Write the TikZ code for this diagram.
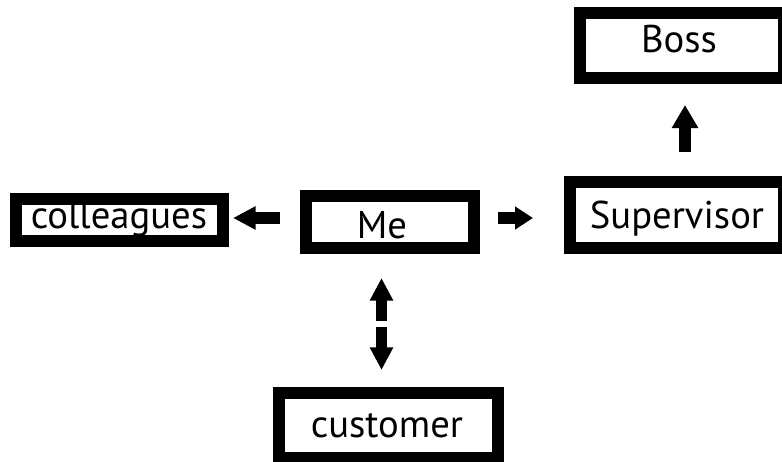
\documentclass[tikz,border=0pt]{standalone}
\usepackage{fontspec}
\setmainfont{PT Sans}
\usetikzlibrary{arrows.meta}
\tikzset{
  box/.style={draw=black, line width=9pt, fill=white, inner sep=0pt, outer sep=0pt},
  lbl/.style={anchor=base, inner sep=0pt, font=\fontsize{29}{34}\selectfont},
  arr/.style={line width=8.5pt, -{Triangle[width=16.5pt, length=17pt]}},
}
\begin{document}
\begin{tikzpicture}[x=0.75pt, y=-0.75pt]
\useasboundingbox (0,0) rectangle (782,461);
\fill[white] (0,0) rectangle (782,461);
% boxes
\node[box, minimum width=168*0.75pt, minimum height=51.5*0.75pt] (me) at (390,221.75) {};
\node[box, minimum width=207*0.75pt, minimum height=41.5*0.75pt] (coll) at (119,219.75) {};
\node[box, minimum width=214.5*0.75pt, minimum height=66.5*0.75pt] (sup) at (676.75,214.75) {};
\node[box, minimum width=204*0.75pt, minimum height=65*0.75pt] (boss) at (682,45.5) {};
\node[box, minimum width=218.5*0.75pt, minimum height=64.5*0.75pt] (cust) at (388.25,425.25) {};
% labels
\node[lbl] (tme) at (382,238) {Me};
\node[lbl] (tcoll) at (119,228) {colleagues};
\node[lbl] (tsup) at (677,228) {Supervisor};
\node[lbl] (tboss) at (679,52.7) {Boss};
\node[lbl] (tcust) at (387,437) {customer};
% arrow end points
\coordinate (l1) at (280,218); \coordinate (l2) at (233,218);
\coordinate (r1) at (498,218); \coordinate (r2) at (533,218);
\coordinate (u1) at (381.5,321); \coordinate (u2) at (381.5,278);
\coordinate (d1) at (381.5,327); \coordinate (d2) at (381.5,370);
\coordinate (b1) at (685,152); \coordinate (b2) at (685,105);
\draw[arr] (l1) -- (l2);
\draw[line width=8.5pt, -{Triangle[width=16.5pt, length=13.5pt]}] (r1) -- (r2);
\draw[arr] (u1) -- (u2);
\draw[arr] (d1) -- (d2);
\draw[line width=9pt, -{Triangle[width=18.75pt, length=17.25pt]}] (b1) -- (b2);
\end{tikzpicture}
\end{document}
